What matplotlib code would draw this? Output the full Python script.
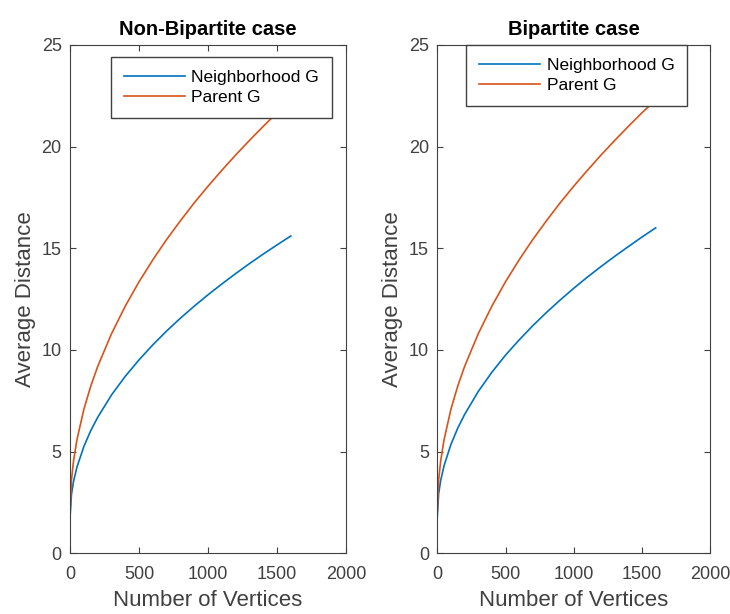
import matplotlib
matplotlib.use("Agg")
import matplotlib.pyplot as plt

plt.rcParams['font.family'] = ['Liberation Sans', 'DejaVu Sans']

# number of vertices (sample points)
vertices = [0, 10, 25, 50, 100, 150, 200, 300, 400, 500, 600, 700, 800,
            900, 1000, 1100, 1200, 1300, 1400, 1500, 1600]

# non-bipartite case
nb_neighborhood = [1.80, 2.89, 3.53, 4.24, 5.25, 6.03, 6.68, 7.78, 8.70, 9.51,
                   10.25, 10.93, 11.56, 12.15, 12.71, 13.24, 13.75, 14.24,
                   14.71, 15.16, 15.60]
nb_parent = [2.00, 3.60, 4.54, 5.59, 7.08, 8.22, 9.18, 10.79, 12.15, 13.35,
             14.43, 15.43, 16.35, 17.23, 18.05, 18.83, 19.58, 20.30, 20.99,
             21.66, 22.30]

# bipartite case
b_neighborhood = [1.80, 2.92, 3.58, 4.31, 5.35, 6.15, 6.82, 7.95, 8.90, 9.74,
                  10.49, 11.19, 11.84, 12.45, 13.03, 13.58, 14.10, 14.60,
                  15.08, 15.55, 16.00]
b_parent = [2.00, 3.60, 4.54, 5.59, 7.08, 8.22, 9.18, 10.79, 12.15, 13.35,
            14.43, 15.43, 16.35, 17.23, 18.05, 18.83, 19.58, 20.30, 20.99,
            21.66, 22.30]

titles = ["Non-Bipartite case", "Bipartite case"]
series = [(nb_neighborhood, nb_parent), (b_neighborhood, b_parent)]
legend_anchor = [(0.95, 0.977), (0.916, 1.0)]

blue = '#0072BD'
orange = '#D95319'
axis_col = '#404040'

fig = plt.figure(figsize=(7.3, 6.14), dpi=100)
positions = [[0.096, 0.099, 0.378, 0.828], [0.599, 0.099, 0.374, 0.828]]

for i in range(2):
    ax = fig.add_axes(positions[i])
    neigh, parent = series[i]
    ax.plot(vertices, neigh, color=blue, lw=1.2, label="Neighborhood G")
    ax.plot(vertices, parent, color=orange, lw=1.2, label="Parent G")
    ax.set_xlim(0, 2000)
    ax.set_ylim(0, 25)
    ax.set_xticks([0, 500, 1000, 1500, 2000])
    ax.set_yticks([0, 5, 10, 15, 20, 25])
    ax.tick_params(direction='in', top=True, right=True, labelsize=13,
                   colors=axis_col, length=4)
    ax.tick_params(axis='x', pad=9)
    ax.tick_params(axis='y', pad=6)
    for s in ax.spines.values():
        s.set_color(axis_col)
    ax.set_title(titles[i], fontsize=14.5, fontweight='bold', pad=7)
    ax.set_xlabel("Number of Vertices", fontsize=16, color=axis_col, labelpad=5)
    ax.set_ylabel("Average Distance", fontsize=16, color=axis_col, labelpad=4)
    leg = ax.legend(loc='upper right', bbox_to_anchor=legend_anchor[i],
                    fontsize=12.5, fancybox=False, framealpha=1,
                    edgecolor=axis_col, handlelength=3.5, borderpad=0.75,
                    labelspacing=0.3, handletextpad=0.4, borderaxespad=0)
    leg.get_frame().set_linewidth(1.0)

fig.savefig("out.png", dpi=100)
